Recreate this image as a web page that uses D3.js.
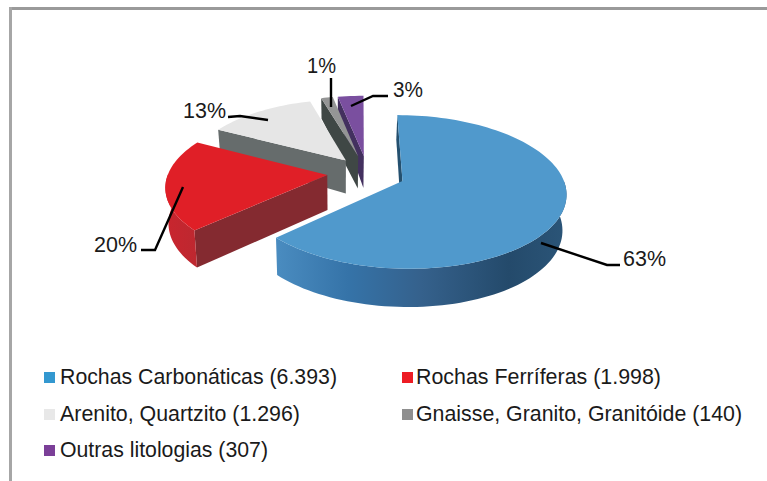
<!DOCTYPE html>
<html><head><meta charset="utf-8">
<script src="https://cdn.jsdelivr.net/npm/d3@7"></script>
<style>html,body{margin:0;padding:0;background:#fff}svg{display:block}text{font-family:"Liberation Sans",Arial,sans-serif;fill:#1a1a1a}</style>
</head><body><svg id="c" width="767" height="481"></svg>
<script>
const categories=["Rochas Carbonáticas","Rochas Ferríferas","Arenito, Quartzito","Gnaisse, Granito, Granitóide","Outras litologias"];
const values=[6393,1998,1296,140,307];
const valueLabels=["6.393","1.998","1.296","140","307"];
const percentLabels=["63%","20%","13%","1%","3%"];
const legendColors=["#3398d0","#ed1c24","#e8e8e8","#8f8f8f","#7b3f98"];
const topColors=["#5099cc","#e01f27","#e6e6e6","#949595","#7a4f9f"];
const cutColors=["#24506f","#842a30","#666c6c","#3f4745","#43305f"];
const wallStops=[
 [["0","#4a8cc0"],[".25","#3573a8"],[".5","#35618c"],[".8","#244a6b"],["1","#2b5578"]],
 [["0","#c9252e"],["1","#bd2830"]],
 [["0","#666c6c"],["1","#666c6c"]],
 [["0","#3f4745"],["1","#3f4745"]],
 [["0","#43305f"],["1","#43305f"]]];
// projection of the tilted, exploded pie
const P={cx:361,cy:173,rx:159,ry:73,p:.14,k:.982,vx:340};
const explode=[.27,.213,.19,.27,.27];
const nudgeX=[1.5,0,3.5,7,7];
const nudgeY=[0,0,-2,2,2];
const svg=d3.select("#c");
const defs=svg.append("defs");
const line=d3.line();
const scale=v=>1/(1-P.p*v);
const depth=v=>35+(v>0?3:12)*v;
function proj(u,v){const s=scale(v);return[P.cx+P.rx*u*s,P.cy+P.ry*v*s];}
function lower(u,v){const q=proj(u,v);return[P.vx+(q[0]-P.vx)*P.k,q[1]+depth(v)];}
const pie=d3.pie().sort(null).value(d=>d)(values);
// frame
svg.append("rect").attr("x",9).attr("y",7).attr("width",758).attr("height",3).attr("fill","#9a9a9a");
svg.append("rect").attr("x",9).attr("y",7).attr("width",3).attr("height",474).attr("fill","#a6a6a6");
const area=pts=>d3.polygonArea(pts);
// back to front: purple, gray, light, red, blue
[4,3,2,1,0].forEach(i=>{
  const a=pie[i],mid=(a.startAngle+a.endAngle)/2;
  const ox=explode[i]*Math.sin(mid)+nudgeX[i]/P.rx,oy=-explode[i]*Math.cos(mid)+nudgeY[i]/P.ry;
  const pt=(th,r)=>[ox+r*Math.sin(th),oy-r*Math.cos(th)];
  const n=Math.max(4,Math.ceil((a.endAngle-a.startAngle)/(Math.PI/90)));
  const ths=d3.range(n+1).map(j=>a.startAngle+(a.endAngle-a.startAngle)*j/n);
  const g=svg.append("g");
  // cut faces
  [a.startAngle,a.endAngle].forEach((th,idx)=>{
    const c=pt(0,0),e=pt(th,1);
    const poly=[proj(...c),proj(...e),lower(...e),lower(...c)];
    const ar=area(poly)*(idx?-1:1);
    if(ar>0)g.append("path").attr("d",line(poly)+"Z").attr("fill",cutColors[i]);
  });
  // outer wall: front-facing samples only
  const vis=ths.filter(th=>Math.cos(th)<0.02);
  if(vis.length>1){
    const id="w"+i;
    const gr=defs.append("linearGradient").attr("id",id);
    wallStops[i].forEach(s=>gr.append("stop").attr("offset",s[0]).attr("stop-color",s[1]));
    const tops=vis.map(th=>proj(...pt(th,1)));
    const bots=vis.map(th=>lower(...pt(th,1))).reverse();
    g.append("path").attr("d",line(tops.concat(bots))+"Z").attr("fill",`url(#${id})`);
  }
  // top face
  const face=[proj(...pt(0,0))].concat(ths.map(th=>proj(...pt(th,1))));
  g.append("path").attr("d",line(face)+"Z").attr("fill",topColors[i]);
});
// leader lines + labels
const leaders=[
 [[541,243],[607,265],[620,265]],
 [[183,187],[155,250],[141,250]],
 [[268,120],[240,116],[228,117]],
 [[331,107],[331,78]],
 [[351,106],[373,96],[388,96]]];
const labelPos=[[623,266],[94,252],[183,118],[307,73],[393,97]];
leaders.forEach(l=>svg.append("path").attr("d",line(l)).attr("fill","none").attr("stroke","#000").attr("stroke-width",2.4));
percentLabels.forEach((t,i)=>svg.append("text").attr("x",labelPos[i][0]).attr("y",labelPos[i][1]).attr("font-size",22).attr("textLength",i==3?29:(i==4?30:43)).attr("lengthAdjust","spacingAndGlyphs").text(t));
// legend
const legendPos=[[44,372],[402,372],[44,409],[402,409],[44,445]];
const legendWidths=[277,245,240,326,208];
categories.forEach((c,i)=>{
  const [x,y]=legendPos[i];
  svg.append("rect").attr("x",x).attr("y",y).attr("width",11).attr("height",11).attr("fill",legendColors[i]);
  svg.append("text").attr("x",x+(i%2?14:16)).attr("y",y+11.5).attr("font-size",22).attr("textLength",legendWidths[i]).attr("lengthAdjust","spacingAndGlyphs").text(`${c} (${valueLabels[i]})`);
});
</script></body></html>
